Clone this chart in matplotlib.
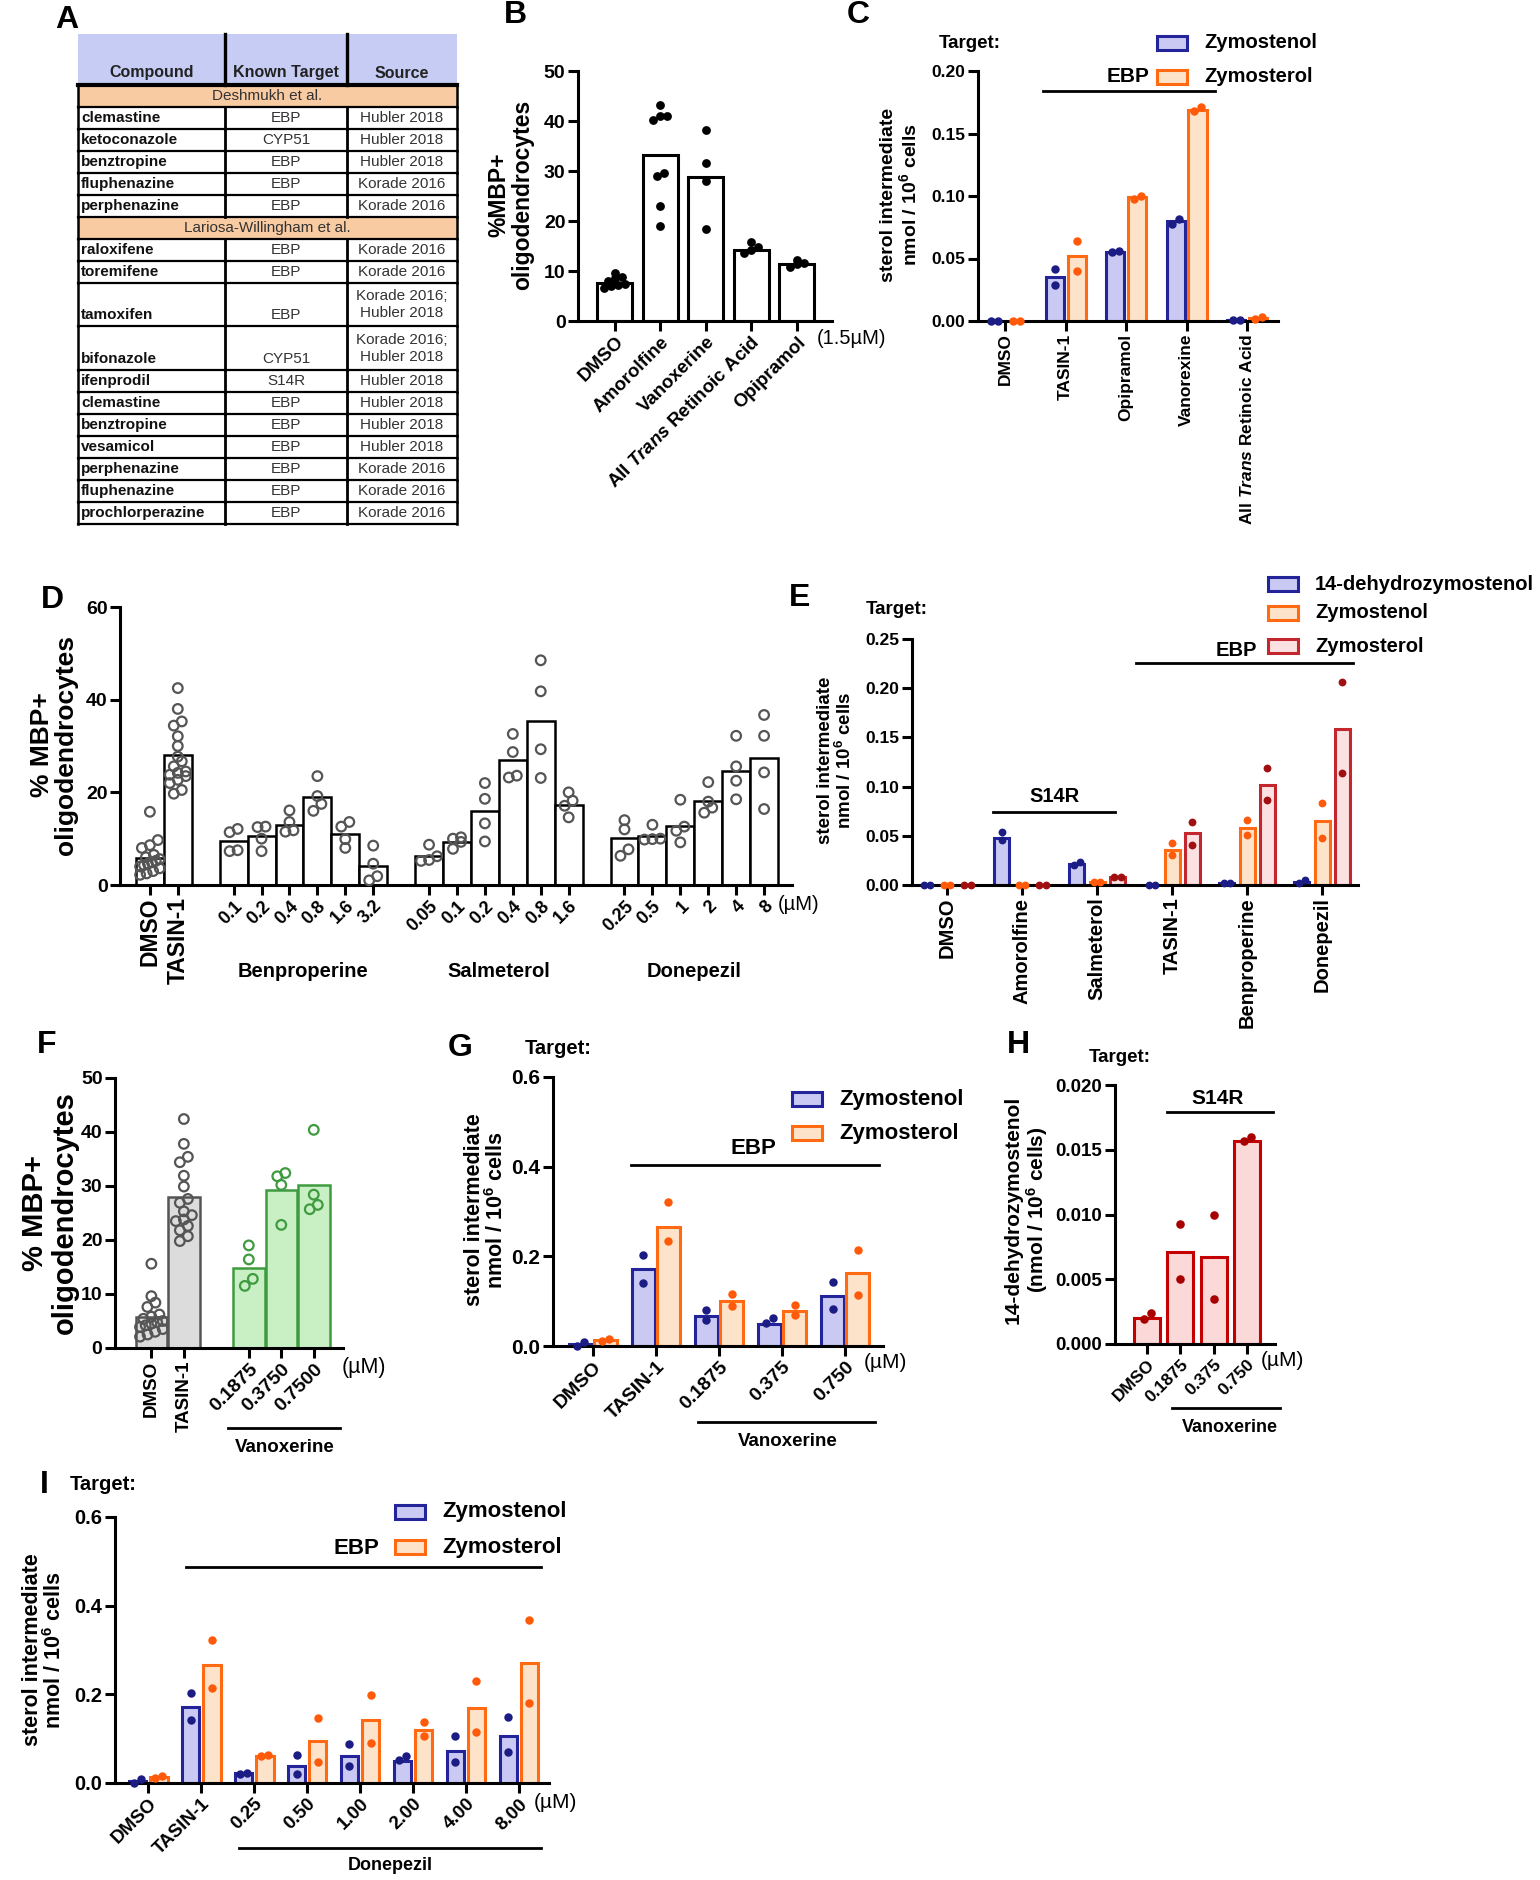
import matplotlib
matplotlib.use("Agg")
import matplotlib.pyplot as plt
import matplotlib.transforms as mtrans
from matplotlib.patches import Rectangle
import numpy as np

plt.rcParams['font.family'] = ['Liberation Sans', 'DejaVu Sans']
plt.rcParams['font.weight'] = 'bold'
plt.rcParams['mathtext.fontset'] = 'custom'
plt.rcParams['mathtext.rm'] = 'Liberation Sans:bold'
plt.rcParams['mathtext.bf'] = 'Liberation Sans:bold'
plt.rcParams['mathtext.it'] = 'Liberation Sans:italic'
plt.rcParams['mathtext.default'] = 'rm'

# ---------------- data ----------------
# A: table
tab_header = ["Compound", "Known Target", "Source"]
sec1_name = "Deshmukh et al."
sec1_compounds = ["clemastine", "ketoconazole", "benztropine", "fluphenazine", "perphenazine"]
sec1_targets = ["EBP", "CYP51", "EBP", "EBP", "EBP"]
sec1_sources = ["Hubler 2018", "Hubler 2018", "Hubler 2018", "Korade 2016", "Korade 2016"]
sec2_name = "Lariosa-Willingham et al."
sec2_compounds = ["raloxifene", "toremifene", "tamoxifen", "bifonazole", "ifenprodil", "clemastine",
                  "benztropine", "vesamicol", "perphenazine", "fluphenazine", "prochlorperazine"]
sec2_targets = ["EBP", "EBP", "EBP", "CYP51", "S14R", "EBP", "EBP", "EBP", "EBP", "EBP", "EBP"]
sec2_sources = ["Korade 2016", "Korade 2016", "Korade 2016;\nHubler 2018", "Korade 2016;\nHubler 2018",
                "Hubler 2018", "Hubler 2018", "Hubler 2018", "Hubler 2018", "Korade 2016",
                "Korade 2016", "Korade 2016"]

# B
B_labels = ["DMSO", "Amorolfine", "Vanoxerine", r"All $\mathit{Trans}$ Retinoic Acid", "Opipramol"]
B_bars = [7.6, 33.2, 28.9, 14.3, 11.4]
B_pts = [[9.6, 7.2, 8.0, 7.4, 8.6, 6.6, 8.8, 7.0],
         [41.0, 43.3, 41.0, 40.3, 29.0, 29.7, 23.0, 19.0],
         [38.3, 31.6, 28.0, 18.5],
         [13.6, 14.8, 14.2, 15.9],
         [12.3, 10.8, 11.5, 11.6]]

# C
C_labels = ["DMSO", "TASIN-1", "Opipramol", "Vanorexine", r"All $\mathit{Trans}$ Retinoic Acid"]
C_zymostenol_bars = [0.0, 0.035, 0.055, 0.080, 0.0005]
C_zymostenol_pts = [[0.0, 0.0], [0.042, 0.029], [0.055, 0.056], [0.078, 0.082], [0.0005, 0.0005]]
C_zymosterol_bars = [0.0, 0.052, 0.099, 0.169, 0.0025]
C_zymosterol_pts = [[0.0, 0.0], [0.064, 0.040], [0.098, 0.100], [0.168, 0.171], [0.002, 0.003]]

# D
D_controls = ["DMSO", "TASIN-1"]
D_compounds = ["Benproperine", "Salmeterol", "Donepezil"]
D_doses = [["0.1", "0.2", "0.4", "0.8", "1.6", "3.2"],
           ["0.05", "0.1", "0.2", "0.4", "0.8", "1.6"],
           ["0.25", "0.5", "1", "2", "4", "8"]]
D_bars = [5.9, 28.0, 9.6, 10.6, 13.0, 19.0, 11.0, 4.2, 6.3, 9.2, 15.9, 26.9, 35.4, 17.3,
          10.1, 10.6, 12.8, 18.2, 24.5, 27.4]
D_pts = [[15.8, 9.7, 8.6, 8.0, 6.5, 6.0, 5.6, 5.2, 4.9, 4.6, 4.3, 4.0, 3.6, 3.0, 2.5, 2.2],
         [42.5, 38.0, 35.3, 34.4, 32.1, 30.0, 27.7, 26.7, 25.6, 24.5, 24.2, 23.8, 23.5, 22.7, 22.0, 20.5, 19.7],
         [11.4, 7.3, 7.5, 12.1], [12.6, 10.0, 7.3, 12.5], [16.1, 13.6, 11.5, 11.8],
         [23.5, 19.2, 17.5, 16.0], [13.6, 12.6, 9.9, 8.0], [8.5, 4.6, 1.9, 1.0],
         [8.7, 6.2, 5.4, 5.2], [10.3, 10.0, 9.3, 7.8], [22.0, 18.6, 13.3, 9.4],
         [32.6, 28.7, 23.6, 23.2], [48.5, 41.8, 29.3, 23.1], [20.0, 18.2, 17.1, 14.6],
         [14.0, 12.0, 6.3, 7.7], [13.0, 10.0, 9.9, 9.8], [18.4, 12.6, 11.7, 9.2],
         [22.2, 18.0, 15.6, 16.7], [32.2, 25.6, 22.5, 18.5], [36.7, 32.2, 24.3, 16.4]]

# E
E_labels = ["DMSO", "Amorolfine", "Salmeterol", "TASIN-1", "Benproperine", "Donepezil"]
E_dehydro_bars = [0.0, 0.0475, 0.021, 0.0, 0.002, 0.003]
E_dehydro_pts = [[0, 0], [0.054, 0.046], [0.020, 0.023], [0, 0], [0.002, 0.002], [0.002, 0.005]]
E_zymostenol_bars = [0.0, 0.0, 0.003, 0.0356, 0.058, 0.065]
E_zymostenol_pts = [[0, 0], [0, 0], [0.003, 0.003], [0.043, 0.0305], [0.066, 0.051], [0.083, 0.0475]]
E_zymosterol_bars = [0.0, 0.0, 0.008, 0.0526, 0.102, 0.159]
E_zymosterol_pts = [[0, 0], [0, 0], [0.008, 0.008], [0.064, 0.041], [0.119, 0.0865], [0.206, 0.114]]

# F
F_labels = ["DMSO", "TASIN-1", "0.1875", "0.3750", "0.7500"]
F_bars = [5.8, 27.9, 14.9, 29.2, 30.1]
F_pts = [[15.6, 9.6, 8.4, 7.6, 6.2, 5.8, 5.4, 5.0, 4.8, 4.5, 4.2, 3.9, 3.5, 3.0, 2.5, 2.1],
         [42.4, 37.8, 35.4, 34.4, 31.9, 29.9, 27.6, 26.9, 25.3, 24.6, 23.8, 23.5, 22.6, 21.8, 20.7, 19.8],
         [19.0, 16.4, 12.8, 11.5],
         [31.8, 32.4, 30.2, 22.8],
         [40.4, 28.4, 26.5, 25.7]]

# G
G_labels = ["DMSO", "TASIN-1", "0.1875", "0.375", "0.750"]
G_zymostenol_bars = [0.004, 0.171, 0.067, 0.050, 0.111]
G_zymostenol_pts = [[0.0, 0.008], [0.203, 0.141], [0.080, 0.058], [0.052, 0.062], [0.143, 0.082]]
G_zymosterol_bars = [0.013, 0.266, 0.101, 0.079, 0.162]
G_zymosterol_pts = [[0.011, 0.016], [0.321, 0.235], [0.117, 0.089], [0.091, 0.069], [0.214, 0.114]]

# H
H_labels = ["DMSO", "0.1875", "0.375", "0.750"]
H_bars = [0.0020, 0.0071, 0.0067, 0.0157]
H_pts = [[0.0019, 0.0024], [0.0093, 0.0050], [0.0100, 0.0035], [0.0157, 0.0160]]

# I
I_labels = ["DMSO", "TASIN-1", "0.25", "0.50", "1.00", "2.00", "4.00", "8.00"]
I_zymostenol_bars = [0.005, 0.171, 0.022, 0.039, 0.0615, 0.049, 0.073, 0.1065]
I_zymostenol_pts = [[0.0, 0.008], [0.204, 0.141], [0.021, 0.023], [0.064, 0.021], [0.0885, 0.039],
                    [0.051, 0.0615], [0.105, 0.0465], [0.148, 0.070]]
I_zymosterol_bars = [0.013, 0.266, 0.060, 0.094, 0.1425, 0.1185, 0.169, 0.2715]
I_zymosterol_pts = [[0.012, 0.016], [0.323, 0.214], [0.062, 0.063], [0.146, 0.047], [0.199, 0.090],
                    [0.1365, 0.1065], [0.230, 0.114], [0.368, 0.180]]

# ---------------- style ----------------
BLUE_E, BLUE_F, BLUE_D = "#23239a", "#c9c9f3", "#1c1c85"
ORA_E, ORA_F, ORA_D = "#ff6a13", "#fde3c9", "#ff5a0a"
RED_E, RED_F, RED_D = "#c3262c", "#fbe1e1", "#a01010"
HR_E, HR_F, HR_D = "#c40000", "#fbd9d9", "#a80000"
GRN_E, GRN_F = "#3f9b3f", "#c9f0c5"
GRY_E, GRY_F = "#555555", "#dcdcdc"
STEROL_LABEL = "sterol intermediate\nnmol / 10$^{6}$ cells"
MBP_LABEL = "% MBP+\noligodendrocytes"

W, H = 1540, 1880
fig = plt.figure(figsize=(W / 100, H / 100), dpi=100)
bg = fig.add_axes([0, 0, 1, 1])
bg.set_xlim(0, W)
bg.set_ylim(H, 0)
bg.axis('off')


def add_ax(box):
    x0, y0, x1, y1 = box
    ax = fig.add_axes([x0 / W, 1 - y1 / H, (x1 - x0) / W, (y1 - y0) / H])
    ax.patch.set_alpha(0)
    for s in ('top', 'right'):
        ax.spines[s].set_visible(False)
    for s in ('left', 'bottom'):
        ax.spines[s].set_linewidth(2.2)
    ax.tick_params(width=2.2, length=7, pad=2)
    return ax


def swarm(vals, dy, dx, maxw):
    vals = np.asarray(vals, float)
    order = np.argsort(vals, kind='stable')
    offs = np.zeros(len(vals))
    i = 0
    while i < len(order):
        j = i
        while j + 1 < len(order) and vals[order[j + 1]] - vals[order[i]] < dy:
            j += 1
        k = j - i + 1
        step = dx if k == 1 else min(dx, maxw / (k - 1))
        offs[order[i:j + 1]] = (np.arange(k) - (k - 1) / 2) * step
        i = j + 1
    return offs


def add_points(ax, box, xc, vals, diam, maxw, **kw):
    x0, y0, x1, y1 = box
    xl, yl = ax.get_xlim(), ax.get_ylim()
    dy = diam * (yl[1] - yl[0]) / (y1 - y0)
    dx = diam * (xl[1] - xl[0]) / (x1 - x0)
    offs = swarm(vals, dy, dx, maxw)
    ax.scatter(xc + offs, vals, clip_on=False, **kw)


def grouped(ax, box, series, offsets, width, diam=7):
    for (bars, pts, edge, fill, dot), off in zip(series, offsets):
        xs = np.arange(len(bars)) + off
        ax.bar(xs, bars, width, color=fill, edgecolor=edge, linewidth=2.2, zorder=2)
        for xc, p in zip(xs, pts):
            add_points(ax, box, xc, p, diam, width * 0.55, s=diam ** 2 * 0.75,
                       color=dot, linewidths=0, zorder=3)


def yticks(ax, ticks, fmt, fs):
    ax.set_yticks(ticks)
    ax.set_yticklabels([fmt.format(t) for t in ticks], fontsize=fs)


def xlabels(ax, pos, labels, rot, fs):
    ax.set_xticks(pos)
    if rot == 45:
        ax.set_xticklabels(labels, rotation=45, ha='right', rotation_mode='anchor', fontsize=fs)
    else:
        ax.set_xticklabels(labels, rotation=rot, fontsize=fs)


def upright(ax, n, fs):
    for lab in ax.get_xticklabels()[:n]:
        lab.set_rotation(90)
        lab.set_ha('center')
        lab.set_rotation_mode('default')
        lab.set_fontsize(fs)


def legend(x, rows, items, fs):
    for y, (lab, ec, fc) in zip(rows, items):
        bg.add_patch(Rectangle((x - 15, y - 7), 30, 14, fc=fc, ec=ec, lw=2.2))
        bg.text(x + 32, y, lab, fontsize=fs, va='center', ha='left')


def bracket(x0, x1, y, label, tx, ty, fs=13):
    bg.plot([x0, x1], [y, y], color='black', lw=2)
    bg.text(tx, ty, label, fontsize=fs, ha='center', va='center')


def ylab(x, y, text, fs):
    bg.text(x, y, text, fontsize=fs, rotation=90, ha='center', va='center',
            multialignment='center', linespacing=1.05)


def note(x, y, text, fs):
    bg.text(x, y, text, fontsize=fs, ha='center', va='center', fontweight='normal')


# ---------------- panel letters ----------------
for let, (lx, ly) in {"A": (67, 20), "B": (515, 15), "C": (858, 15), "D": (52, 600),
                      "E": (800, 598), "F": (47, 1045), "G": (460, 1048), "H": (1018, 1045),
                      "I": (44, 1485)}.items():
    bg.text(lx, ly, let, fontsize=23, ha='center', va='center')

# ---------------- A: table ----------------
cx = [78, 225, 347, 457]
top, hdr_bot, bot = 34, 85, 524
rows = [("sec", sec1_name, 1)]
rows += [("row", (c, t, s), 2 if "\n" in s else 1) for c, t, s in zip(sec1_compounds, sec1_targets, sec1_sources)]
rows += [("sec", sec2_name, 1)]
rows += [("row", (c, t, s), 2 if "\n" in s else 1) for c, t, s in zip(sec2_compounds, sec2_targets, sec2_sources)]
unit = (bot - hdr_bot) / sum(r[2] for r in rows)
bg.add_patch(Rectangle((cx[0], top), cx[3] - cx[0], hdr_bot - top, fc="#c7ccf4", ec='none'))
for i, h in enumerate(tab_header):
    bg.text((cx[i] + cx[i + 1]) / 2, hdr_bot - 12, h, fontsize=11.5, ha='center', va='center', color='#222222')
for x in cx[1:3]:
    bg.plot([x, x], [top, hdr_bot], color='black', lw=2.4)
y = hdr_bot
for kind, content, n in rows:
    h = n * unit
    if kind == "sec":
        bg.add_patch(Rectangle((cx[0], y), cx[3] - cx[0], h, fc="#f8cba2", ec='none'))
        bg.text((cx[0] + cx[3]) / 2, y + h / 2, content, fontsize=11, ha='center', va='center',
                fontweight='normal', color='#333333')
    else:
        c, t, s = content
        ty = y + h - unit / 2
        bg.text(cx[0] + 3, ty, c, fontsize=11, ha='left', va='center', color='#111111')
        bg.text((cx[1] + cx[2]) / 2, ty, t, fontsize=11, ha='center', va='center',
                fontweight='normal', color='#333333')
        bg.text((cx[2] + cx[3]) / 2, y + h / 2, s, fontsize=11, ha='center', va='center',
                fontweight='normal', color='#333333', linespacing=1.3)
        for x in cx[1:3]:
            bg.plot([x, x], [y, y + h], color='black', lw=2.0)
    bg.plot([cx[0], cx[0]], [y, y + h], color='black', lw=1.8)
    bg.plot([cx[3], cx[3]], [y, y + h], color='black', lw=1.8)
    y += h
    bg.plot([cx[0], cx[3]], [y, y], color='black', lw=1.6)
bg.plot([cx[0], cx[3]], [hdr_bot, hdr_bot], color='black', lw=3)

# ---------------- B ----------------
boxB = (578, 71, 832, 321)
ax = add_ax(boxB)
ax.set_xlim(-0.81, 4.77)
ax.set_ylim(0, 50)
xs = np.arange(len(B_bars))
ax.bar(xs, B_bars, 0.77, color='white', edgecolor='black', linewidth=2.2, zorder=2)
for xc, p in zip(xs, B_pts):
    add_points(ax, boxB, xc, p, 7, 0.6, s=40, color='black', linewidths=0, zorder=3)
yticks(ax, [0, 10, 20, 30, 40, 50], "{:g}", 14)
xlabels(ax, xs, B_labels, 45, 13.5)
ylab(511, 195, "%MBP+\noligodendrocytes", 16.5)
note(852, 338, "(1.5µM)", 14.5)

# ---------------- C ----------------
boxC = (978, 71, 1278, 321)
ax = add_ax(boxC)
ax.set_xlim(-0.45, 4.51)
ax.set_ylim(0, 0.2)
grouped(ax, boxC, [(C_zymostenol_bars, C_zymostenol_pts, BLUE_E, BLUE_F, BLUE_D),
                   (C_zymosterol_bars, C_zymosterol_pts, ORA_E, ORA_F, ORA_D)], [-0.18, 0.18], 0.3)
yticks(ax, [0, 0.05, 0.10, 0.15, 0.20], "{:.2f}", 12.5)
xlabels(ax, np.arange(len(C_labels)), C_labels, 90, 12.5)
ylab(900, 195, STEROL_LABEL, 14)
bg.text(970, 43, "Target:", fontsize=13.5, ha='center', va='center')
legend(1172, [43, 77], [("Zymostenol", BLUE_E, BLUE_F), ("Zymosterol", ORA_E, ORA_F)], 14.5)
bracket(1043, 1215, 91, "EBP", 1128, 77, 15)

# ---------------- D ----------------
boxD = (120, 607, 792, 885)
ax = add_ax(boxD)
D_pos = list(range(len(D_controls)))
for doses in D_doses:
    start = D_pos[-1] + 2
    D_pos += list(range(start, start + len(doses)))
D_pos = np.array(D_pos)
ax.set_xlim(D_pos[0] - 1.07, D_pos[-1] + 1.0)
ax.set_ylim(0, 60)
ax.bar(D_pos, D_bars, 1.0, color='white', edgecolor='black', linewidth=1.8, zorder=2)
for xc, p in zip(D_pos, D_pts):
    add_points(ax, boxD, xc, p, 8, 0.7, s=48, facecolors='none', edgecolors='#555555',
               linewidths=1.6, zorder=3)
yticks(ax, [0, 20, 40, 60], "{:g}", 14)
D_labels = D_controls + [d for ds in D_doses for d in ds]
xlabels(ax, D_pos, D_labels, 45, 13)
upright(ax, len(D_controls), 16.5)
blend = mtrans.blended_transform_factory(ax.transData, ax.transAxes)
k = len(D_controls)
for name, doses in zip(D_compounds, D_doses):
    grp = D_pos[k:k + len(doses)]
    ax.text(grp.mean(), -0.31, name, transform=blend, fontsize=14.5, ha='center', va='center')
    k += len(doses)
ylab(54, 745, MBP_LABEL, 19)
note(799, 905, "(µM)", 14.5)

# ---------------- E ----------------
boxE = (912, 639, 1358, 885)
ax = add_ax(boxE)
ax.set_xlim(-0.47, 5.48)
ax.set_ylim(0, 0.25)
grouped(ax, boxE, [(E_dehydro_bars, E_dehydro_pts, BLUE_E, BLUE_F, BLUE_D),
                   (E_zymostenol_bars, E_zymostenol_pts, ORA_E, ORA_F, ORA_D),
                   (E_zymosterol_bars, E_zymosterol_pts, RED_E, RED_F, RED_D)],
        [-0.27, 0.0, 0.27], 0.2, diam=6.5)
yticks(ax, [0, 0.05, 0.10, 0.15, 0.20, 0.25], "{:.2f}", 12.5)
xlabels(ax, np.arange(len(E_labels)), E_labels, 90, 14.5)
ylab(836, 760, STEROL_LABEL, 13.5)
bg.text(897, 609, "Target:", fontsize=13.5, ha='center', va='center')
legend(1283, [584, 613, 646], [("14-dehydrozymostenol", BLUE_E, BLUE_F),
                               ("Zymostenol", ORA_E, ORA_F), ("Zymosterol", RED_E, RED_F)], 14.5)
bracket(1136, 1353, 663, "EBP", 1236, 650, 14.5)
bracket(993, 1115, 812, "S14R", 1055, 797, 14.5)

# ---------------- F ----------------
boxF = (115, 1078, 343, 1348)
ax = add_ax(boxF)
F_pos = np.array([0, 1, 3, 4, 5])
ax.set_xlim(-1.12, 5.9)
ax.set_ylim(0, 50)
F_fill = [GRY_F, GRY_F, GRN_F, GRN_F, GRN_F]
F_edge = [GRY_E, GRY_E, GRN_E, GRN_E, GRN_E]
ax.bar(F_pos, F_bars, 0.97, color=F_fill, edgecolor=F_edge, linewidth=1.8, zorder=2)
for xc, p, ec in zip(F_pos, F_pts, F_edge):
    add_points(ax, boxF, xc, p, 8, 0.7, s=48, facecolors='none', edgecolors=ec,
               linewidths=1.6, zorder=3)
yticks(ax, [0, 10, 20, 30, 40, 50], "{:g}", 14)
xlabels(ax, F_pos, F_labels, 45, 14)
upright(ax, 2, 13.5)
ylab(50, 1213, MBP_LABEL, 21)
note(364, 1368, "(µM)", 15.5)
bracket(228, 340, 1428, "Vanoxerine", 285, 1448, 13.5)

# ---------------- G ----------------
boxG = (553, 1077, 883, 1346)
ax = add_ax(boxG)
ax.set_xlim(-0.63, 4.6)
ax.set_ylim(0, 0.6)
grouped(ax, boxG, [(G_zymostenol_bars, G_zymostenol_pts, BLUE_E, BLUE_F, BLUE_D),
                   (G_zymosterol_bars, G_zymosterol_pts, ORA_E, ORA_F, ORA_D)], [-0.2, 0.2], 0.36)
yticks(ax, [0, 0.2, 0.4, 0.6], "{:.1f}", 15)
xlabels(ax, np.arange(len(G_labels)), G_labels, 45, 14)
ylab(486, 1210, STEROL_LABEL, 15.5)
bg.text(558, 1048, "Target:", fontsize=14.5, ha='center', va='center')
legend(807, [1099, 1133], [("Zymostenol", BLUE_E, BLUE_F), ("Zymosterol", ORA_E, ORA_F)], 16)
bracket(631, 879, 1165, "EBP", 753, 1148, 16)
bracket(698, 875, 1422, "Vanoxerine", 788, 1442, 13.5)
note(885, 1363, "(µM)", 15)

# ---------------- H ----------------
boxH = (1115, 1085, 1275, 1344)
ax = add_ax(boxH)
ax.set_xlim(-0.96, 3.84)
ax.set_ylim(0, 0.02)
xs = np.arange(len(H_bars))
ax.bar(xs, H_bars, 0.78, color=HR_F, edgecolor=HR_E, linewidth=2.2, zorder=2)
for xc, p in zip(xs, H_pts):
    add_points(ax, boxH, xc, p, 7, 0.45, s=38, color=HR_D, linewidths=0, zorder=3)
yticks(ax, [0, 0.005, 0.010, 0.015, 0.020], "{:.3f}", 13.5)
xlabels(ax, xs, H_labels, 45, 12.5)
ylab(1027, 1210, "14-dehydrozymostenol\n(nmol / 10$^{6}$ cells)", 15)
bg.text(1120, 1058, "Target:", fontsize=13.5, ha='center', va='center')
bracket(1167, 1273, 1112, "S14R", 1218, 1098, 15)
bracket(1172, 1280, 1408, "Vanoxerine", 1230, 1427, 13)
note(1282, 1360, "(µM)", 15)

# ---------------- I ----------------
boxI = (115, 1517, 549, 1783)
ax = add_ax(boxI)
ax.set_xlim(-0.63, 7.57)
ax.set_ylim(0, 0.6)
grouped(ax, boxI, [(I_zymostenol_bars, I_zymostenol_pts, BLUE_E, BLUE_F, BLUE_D),
                   (I_zymosterol_bars, I_zymosterol_pts, ORA_E, ORA_F, ORA_D)], [-0.2, 0.2], 0.33)
yticks(ax, [0, 0.2, 0.4, 0.6], "{:.1f}", 14.5)
xlabels(ax, np.arange(len(I_labels)), I_labels, 45, 13.5)
ylab(44, 1650, STEROL_LABEL, 15.5)
bg.text(103, 1485, "Target:", fontsize=14.5, ha='center', va='center')
legend(410, [1512, 1547], [("Zymostenol", BLUE_E, BLUE_F), ("Zymosterol", ORA_E, ORA_F)], 16)
bracket(186, 541, 1567, "EBP", 356, 1548, 16)
bracket(239, 541, 1848, "Donepezil", 390, 1865, 13)
note(555, 1802, "(µM)", 15)

fig.savefig("out.png", dpi=100)
